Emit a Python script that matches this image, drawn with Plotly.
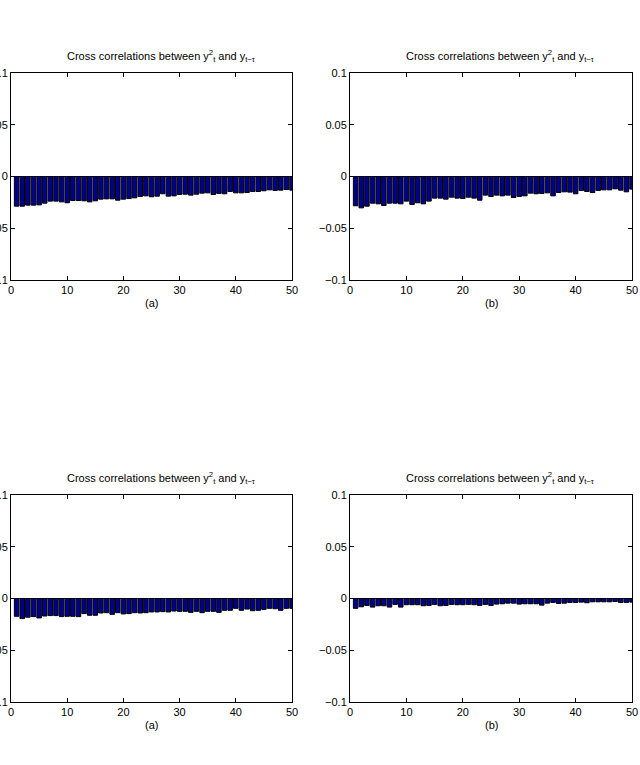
import plotly.graph_objects as go
from plotly.subplots import make_subplots

lags = list(range(1, 51))

top_a = [-0.0287,-0.0287,-0.0277,-0.0277,-0.0274,-0.0258,-0.0238,-0.0238,-0.0245,-0.0254,
         -0.0232,-0.0232,-0.0235,-0.0245,-0.0235,-0.0219,-0.0216,-0.0216,-0.0229,-0.0219,
         -0.0213,-0.0206,-0.0193,-0.0187,-0.0196,-0.0190,-0.0167,-0.0190,-0.0187,-0.0174,
         -0.0171,-0.0180,-0.0171,-0.0161,-0.0158,-0.0174,-0.0164,-0.0167,-0.0145,-0.0158,
         -0.0158,-0.0155,-0.0145,-0.0145,-0.0138,-0.0129,-0.0135,-0.0132,-0.0126,-0.0132]

top_b = [-0.0283,-0.0303,-0.0287,-0.0258,-0.0264,-0.0280,-0.0258,-0.0258,-0.0264,-0.0238,
         -0.0270,-0.0254,-0.0264,-0.0238,-0.0209,-0.0209,-0.0219,-0.0200,-0.0209,-0.0213,
         -0.0200,-0.0209,-0.0229,-0.0180,-0.0193,-0.0180,-0.0187,-0.0180,-0.0203,-0.0193,
         -0.0187,-0.0161,-0.0167,-0.0164,-0.0158,-0.0187,-0.0155,-0.0148,-0.0151,-0.0167,
         -0.0135,-0.0145,-0.0155,-0.0135,-0.0129,-0.0129,-0.0119,-0.0132,-0.0148,-0.0122]

bot_a = [-0.0172,-0.0194,-0.0181,-0.0175,-0.0188,-0.0169,-0.0165,-0.0165,-0.0175,-0.0172,
         -0.0172,-0.0175,-0.0146,-0.0162,-0.0162,-0.0140,-0.0137,-0.0153,-0.0137,-0.0149,
         -0.0146,-0.0137,-0.0140,-0.0137,-0.0130,-0.0130,-0.0127,-0.0130,-0.0121,-0.0124,
         -0.0124,-0.0134,-0.0124,-0.0137,-0.0124,-0.0124,-0.0134,-0.0114,-0.0114,-0.0095,
         -0.0114,-0.0102,-0.0118,-0.0114,-0.0105,-0.0095,-0.0099,-0.0114,-0.0095,-0.0095]

bot_b = [-0.0095,-0.0080,-0.0067,-0.0083,-0.0070,-0.0070,-0.0083,-0.0057,-0.0083,-0.0060,
         -0.0060,-0.0060,-0.0070,-0.0067,-0.0057,-0.0070,-0.0067,-0.0057,-0.0060,-0.0060,
         -0.0057,-0.0060,-0.0067,-0.0057,-0.0067,-0.0054,-0.0051,-0.0045,-0.0045,-0.0054,
         -0.0051,-0.0051,-0.0051,-0.0064,-0.0045,-0.0038,-0.0048,-0.0045,-0.0038,-0.0038,
         -0.0035,-0.0041,-0.0032,-0.0032,-0.0032,-0.0032,-0.0029,-0.0038,-0.0038,-0.0035]

x_ticks = [0, 10, 20, 30, 40, 50]
y_ticks = [-0.1, -0.05, 0, 0.05, 0.1]
y_tick_labels = ["\u22120.1", "\u22120.05", "0", "0.05", "0.1"]
panel_labels = ["(a)", "(b)", "(a)", "(b)"]
title_text = "Cross correlations between y<sup>2</sup><sub>t</sub> and y<sub>t\u2212\u03c4</sub>"

W, H = 640, 765
ml, mr, mt, mb = 11, 8, 73, 63
pw, ph = W - ml - mr, H - mt - mb

xd_left = [0, (292 - ml) / pw]
xd_right = [(350 - ml) / pw, 1]
yd_top = [(H - mb - 280) / ph, 1]
yd_bot = [0, (H - mb - 495) / ph]

fig = make_subplots(rows=2, cols=2)
series = [top_a, top_b, bot_a, bot_b]
pos = [(1, 1), (1, 2), (2, 1), (2, 2)]
for s, (r, c) in zip(series, pos):
    fig.add_trace(go.Bar(x=lags, y=s, width=0.8,
                         marker=dict(color="rgb(0,0,143)", line=dict(color="black", width=1)),
                         showlegend=False), row=r, col=c)

font = dict(family="Liberation Sans, Arial, sans-serif", size=11, color="black")
axis_common = dict(showline=True, linecolor="black", linewidth=1, mirror="ticks",
                   ticks="inside", ticklen=4, tickcolor="black", showgrid=False,
                   tickfont=font, automargin=False)
domains = {1: (xd_left, yd_top), 2: (xd_right, yd_top), 3: (xd_left, yd_bot), 4: (xd_right, yd_bot)}
for i in range(1, 5):
    xd, yd = domains[i]
    xk = "xaxis" if i == 1 else f"xaxis{i}"
    yk = "yaxis" if i == 1 else f"yaxis{i}"
    fig.layout[xk].update(domain=xd, range=[0, 50], tickvals=x_ticks, zeroline=False, **axis_common)
    fig.layout[yk].update(domain=yd, range=[-0.1, 0.1], tickvals=y_ticks, ticktext=y_tick_labels,
                          zeroline=True, zerolinecolor="black", zerolinewidth=1, **axis_common)

    xm = (xd[0] + xd[1]) / 2
    fig.add_annotation(text=title_text, xref="paper", yref="paper", x=xm, y=yd[1],
                       xanchor="center", yanchor="bottom", xshift=9, yshift=7,
                       showarrow=False, font=font)
    fig.add_annotation(text=panel_labels[i - 1], xref="paper", yref="paper", x=xm, y=yd[0],
                       xanchor="center", yanchor="top", yshift=-15, showarrow=False, font=font)

fig.update_layout(width=W, height=H, margin=dict(l=ml, r=mr, t=mt, b=mb, autoexpand=False),
                  paper_bgcolor="white", plot_bgcolor="white", font=font, bargap=0.2)
fig.write_html("out.html")
